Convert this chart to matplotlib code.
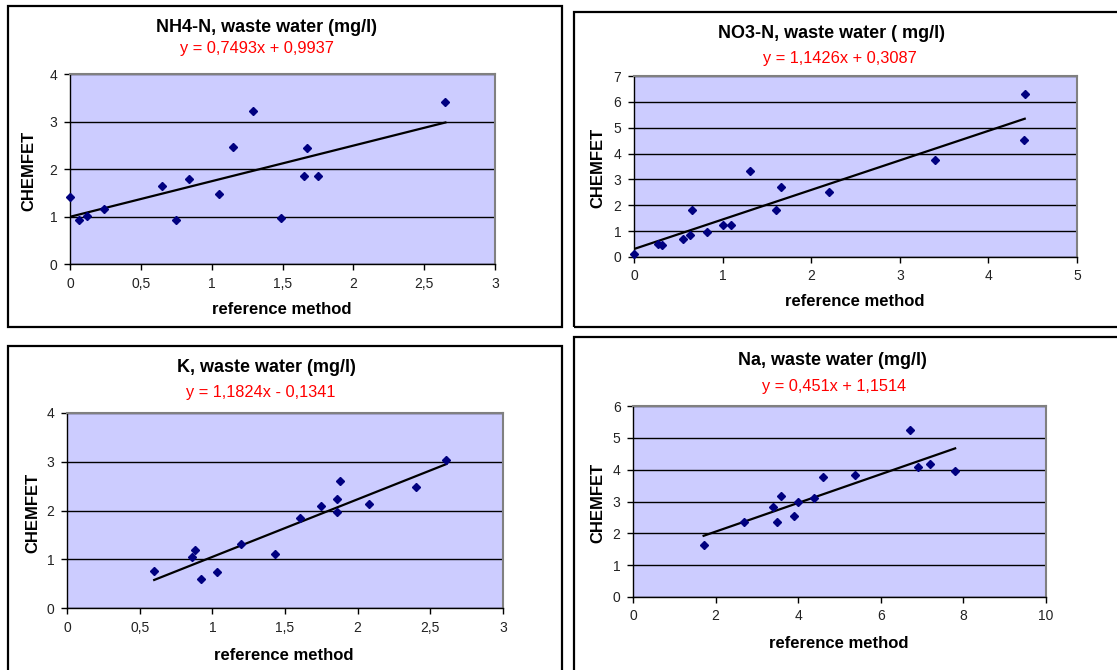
import matplotlib
matplotlib.use("Agg")
import matplotlib.pyplot as plt
from matplotlib.patches import Rectangle
from matplotlib.ticker import FuncFormatter, MultipleLocator

plt.rcParams["font.family"] = ["Liberation Sans", "DejaVu Sans"]

W, H = 1117, 670

# --- measured data: reference method (x) vs CHEMFET (y) ---
nh4_ref = [0.00, 0.06, 0.12, 0.24, 0.65, 0.75, 0.84, 1.05, 1.15, 1.29, 1.49, 1.65, 1.67, 1.75, 2.65]
nh4_chem = [1.42, 0.92, 1.02, 1.15, 1.64, 0.92, 1.80, 1.47, 2.46, 3.22, 0.96, 1.85, 2.44, 1.85, 3.41]

no3_ref = [0.00, 0.27, 0.32, 0.55, 0.63, 0.66, 0.82, 1.00, 1.10, 1.31, 1.60, 1.66, 2.20, 3.40, 4.40, 4.41]
no3_chem = [0.12, 0.50, 0.45, 0.70, 0.84, 1.81, 0.96, 1.23, 1.23, 3.33, 1.81, 2.71, 2.53, 3.75, 4.52, 6.32]

k_ref = [0.60, 0.86, 0.88, 0.925, 1.035, 1.20, 1.43, 1.60, 1.75, 1.86, 1.86, 1.88, 2.08, 2.40, 2.61]
k_chem = [0.75, 1.04, 1.18, 0.60, 0.73, 1.31, 1.10, 1.85, 2.10, 2.23, 1.96, 2.60, 2.13, 2.48, 3.04]

na_ref = [1.71, 2.68, 3.40, 3.49, 3.59, 3.91, 4.00, 4.38, 4.59, 5.37, 6.70, 6.89, 7.18, 7.80]
na_chem = [1.62, 2.37, 2.82, 2.37, 3.17, 2.53, 2.97, 3.11, 3.76, 3.82, 5.24, 4.07, 4.17, 3.95]

# linear trendlines (slope, intercept)
nh4_fit = (0.7493, 0.9937)
no3_fit = (1.1426, 0.3087)
k_fit = (1.1824, -0.1341)
na_fit = (0.451, 1.1514)

titles = ["NH4-N, waste water (mg/l)", "NO3-N, waste water ( mg/l)",
          "K, waste water (mg/l)", "Na, waste water (mg/l)"]
equations = ["y = 0,7493x + 0,9937", "y = 1,1426x + 0,3087",
             "y = 1,1824x - 0,1341", "y = 0,451x + 1,1514"]


def fx(x):
    return x / W


def fy(y):
    return 1 - y / H


def comma(v, pos):
    s = f"{v:g}"
    return s.replace(".", ",")


fig = plt.figure(figsize=(W / 100, H / 100), dpi=100)

# chart frames (pixel boxes: left, top, right, bottom)
frames = [(8, 6, 562, 327), (574, 12, 1125, 327),
          (8, 346, 562, 680), (574, 337, 1125, 680)]
for l, t, r, b in frames:
    fig.add_artist(Rectangle((fx(l), fy(b)), fx(r - l), (b - t) / H,
                             transform=fig.transFigure, fill=False,
                             ec="black", lw=1.6))

panels = [
    dict(x=nh4_ref, y=nh4_chem, fit=nh4_fit, box=(70, 74, 495, 264),
         xlim=3, xstep=0.5, ylim=4, title=(266, 28), eq=(257, 48),
         ylab=(29, 171), xlab=(282, 310)),
    dict(x=no3_ref, y=no3_chem, fit=no3_fit, box=(634, 76, 1077, 257),
         xlim=5, xstep=1, ylim=7, title=(832, 33), eq=(840, 59),
         ylab=(598, 168), xlab=(855, 302)),
    dict(x=k_ref, y=k_chem, fit=k_fit, box=(67, 413, 503, 608),
         xlim=3, xstep=0.5, ylim=4, title=(266, 368), eq=(261, 393),
         ylab=(33, 513), xlab=(284, 656)),
    dict(x=na_ref, y=na_chem, fit=na_fit, box=(633, 406, 1046, 597),
         xlim=10, xstep=2, ylim=6, title=(832, 361), eq=(834, 387),
         ylab=(598, 503), xlab=(839, 643)),
]

for p, title, eq in zip(panels, titles, equations):
    l, t, r, b = p["box"]
    ax = fig.add_axes([fx(l), fy(b), (r - l) / W, (b - t) / H])
    ax.set_facecolor("#ccccff")
    ax.set_xlim(0, p["xlim"])
    ax.set_ylim(0, p["ylim"])
    ax.xaxis.set_major_locator(MultipleLocator(p["xstep"]))
    ax.yaxis.set_major_locator(MultipleLocator(1))
    ax.xaxis.set_major_formatter(FuncFormatter(comma))
    ax.yaxis.set_major_formatter(FuncFormatter(comma))
    ax.grid(axis="y", color="black", lw=1.0)
    ax.set_axisbelow(True)
    for side in ("top", "right"):
        ax.spines[side].set_color("#808080")
        ax.spines[side].set_linewidth(1.5)
    for side in ("left", "bottom"):
        ax.spines[side].set_color("black")
        ax.spines[side].set_linewidth(1.0)
    ax.tick_params(direction="out", length=4, width=1, labelsize=10,
                   colors="black", labelcolor="#222222", pad=5)

    m, c = p["fit"]
    x0, x1 = min(p["x"]), max(p["x"])
    ax.plot([x0, x1], [m * x0 + c, m * x1 + c], color="black", lw=1.6,
            zorder=3)
    ax.plot(p["x"], p["y"], ls="none", marker="D", ms=4.5, color="#000080",
            zorder=4, clip_on=False)

    tx, ty = p["title"]
    fig.text(fx(tx), fy(ty), title, ha="center", va="center",
             fontsize=13, fontweight="bold")
    ex, ey = p["eq"]
    fig.text(fx(ex), fy(ey), eq, ha="center", va="center",
             fontsize=11.8, color="red")
    lx, ly = p["ylab"]
    fig.text(fx(lx), fy(ly), "CHEMFET", ha="center", va="center",
             rotation=90, fontsize=12, fontweight="bold")
    rx, ry = p["xlab"]
    fig.text(fx(rx), fy(ry), "reference method", ha="center", va="center",
             fontsize=12, fontweight="bold")

fig.savefig("out.png", dpi=100)
